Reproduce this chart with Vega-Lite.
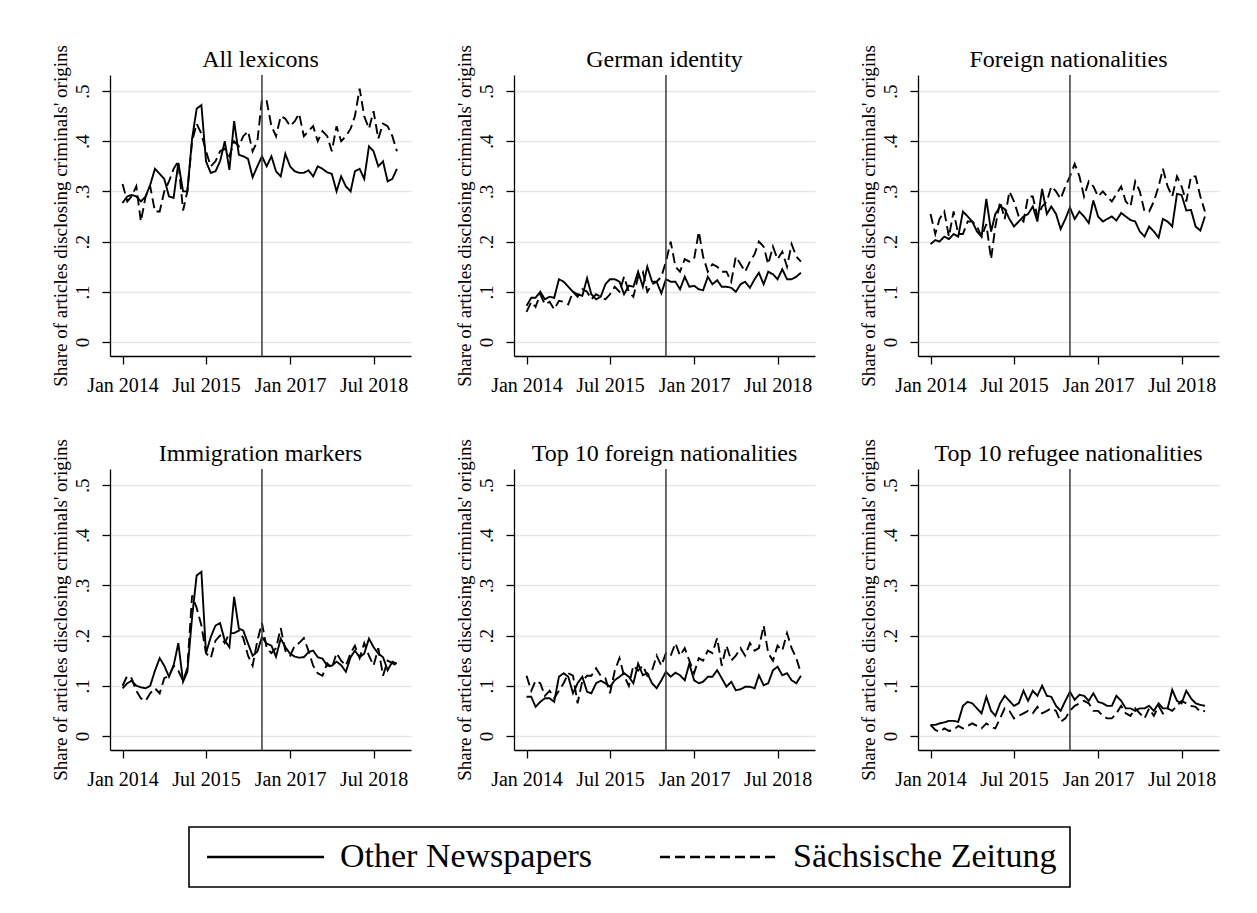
{
"$schema":"https://vega.github.io/schema/vega-lite/v6.json",
"padding":{"left":50,"top":42,"right":5,"bottom":5},
"data":{"values":[
{"p":"All lexicons","d":"2014-01","Other Newspapers":0.277,"Sächsische Zeitung":0.315},
{"p":"All lexicons","d":"2014-02","Other Newspapers":0.29,"Sächsische Zeitung":0.28},
{"p":"All lexicons","d":"2014-03","Other Newspapers":0.293,"Sächsische Zeitung":0.29},
{"p":"All lexicons","d":"2014-04","Other Newspapers":0.29,"Sächsische Zeitung":0.31},
{"p":"All lexicons","d":"2014-05","Other Newspapers":0.28,"Sächsische Zeitung":0.24},
{"p":"All lexicons","d":"2014-06","Other Newspapers":0.29,"Sächsische Zeitung":0.29},
{"p":"All lexicons","d":"2014-07","Other Newspapers":0.313,"Sächsische Zeitung":0.31},
{"p":"All lexicons","d":"2014-08","Other Newspapers":0.345,"Sächsische Zeitung":0.26},
{"p":"All lexicons","d":"2014-09","Other Newspapers":0.335,"Sächsische Zeitung":0.26},
{"p":"All lexicons","d":"2014-10","Other Newspapers":0.325,"Sächsische Zeitung":0.30},
{"p":"All lexicons","d":"2014-11","Other Newspapers":0.29,"Sächsische Zeitung":0.32},
{"p":"All lexicons","d":"2014-12","Other Newspapers":0.287,"Sächsische Zeitung":0.345},
{"p":"All lexicons","d":"2015-01","Other Newspapers":0.357,"Sächsische Zeitung":0.36},
{"p":"All lexicons","d":"2015-02","Other Newspapers":0.30,"Sächsische Zeitung":0.262},
{"p":"All lexicons","d":"2015-03","Other Newspapers":0.30,"Sächsische Zeitung":0.30},
{"p":"All lexicons","d":"2015-04","Other Newspapers":0.405,"Sächsische Zeitung":0.40},
{"p":"All lexicons","d":"2015-05","Other Newspapers":0.465,"Sächsische Zeitung":0.435},
{"p":"All lexicons","d":"2015-06","Other Newspapers":0.472,"Sächsische Zeitung":0.415},
{"p":"All lexicons","d":"2015-07","Other Newspapers":0.36,"Sächsische Zeitung":0.38},
{"p":"All lexicons","d":"2015-08","Other Newspapers":0.337,"Sächsische Zeitung":0.35},
{"p":"All lexicons","d":"2015-09","Other Newspapers":0.34,"Sächsische Zeitung":0.36},
{"p":"All lexicons","d":"2015-10","Other Newspapers":0.36,"Sächsische Zeitung":0.38},
{"p":"All lexicons","d":"2015-11","Other Newspapers":0.40,"Sächsische Zeitung":0.385},
{"p":"All lexicons","d":"2015-12","Other Newspapers":0.343,"Sächsische Zeitung":0.37},
{"p":"All lexicons","d":"2016-01","Other Newspapers":0.44,"Sächsische Zeitung":0.40},
{"p":"All lexicons","d":"2016-02","Other Newspapers":0.373,"Sächsische Zeitung":0.39},
{"p":"All lexicons","d":"2016-03","Other Newspapers":0.37,"Sächsische Zeitung":0.41},
{"p":"All lexicons","d":"2016-04","Other Newspapers":0.365,"Sächsische Zeitung":0.42},
{"p":"All lexicons","d":"2016-05","Other Newspapers":0.328,"Sächsische Zeitung":0.38},
{"p":"All lexicons","d":"2016-06","Other Newspapers":0.35,"Sächsische Zeitung":0.40},
{"p":"All lexicons","d":"2016-07","Other Newspapers":0.37,"Sächsische Zeitung":0.483},
{"p":"All lexicons","d":"2016-08","Other Newspapers":0.35,"Sächsische Zeitung":0.48},
{"p":"All lexicons","d":"2016-09","Other Newspapers":0.37,"Sächsische Zeitung":0.43},
{"p":"All lexicons","d":"2016-10","Other Newspapers":0.34,"Sächsische Zeitung":0.41},
{"p":"All lexicons","d":"2016-11","Other Newspapers":0.33,"Sächsische Zeitung":0.45},
{"p":"All lexicons","d":"2016-12","Other Newspapers":0.375,"Sächsische Zeitung":0.445},
{"p":"All lexicons","d":"2017-01","Other Newspapers":0.35,"Sächsische Zeitung":0.43},
{"p":"All lexicons","d":"2017-02","Other Newspapers":0.34,"Sächsische Zeitung":0.44},
{"p":"All lexicons","d":"2017-03","Other Newspapers":0.337,"Sächsische Zeitung":0.455},
{"p":"All lexicons","d":"2017-04","Other Newspapers":0.337,"Sächsische Zeitung":0.41},
{"p":"All lexicons","d":"2017-05","Other Newspapers":0.342,"Sächsische Zeitung":0.42},
{"p":"All lexicons","d":"2017-06","Other Newspapers":0.33,"Sächsische Zeitung":0.43},
{"p":"All lexicons","d":"2017-07","Other Newspapers":0.35,"Sächsische Zeitung":0.40},
{"p":"All lexicons","d":"2017-08","Other Newspapers":0.345,"Sächsische Zeitung":0.42},
{"p":"All lexicons","d":"2017-09","Other Newspapers":0.338,"Sächsische Zeitung":0.41},
{"p":"All lexicons","d":"2017-10","Other Newspapers":0.335,"Sächsische Zeitung":0.38},
{"p":"All lexicons","d":"2017-11","Other Newspapers":0.30,"Sächsische Zeitung":0.43},
{"p":"All lexicons","d":"2017-12","Other Newspapers":0.33,"Sächsische Zeitung":0.40},
{"p":"All lexicons","d":"2018-01","Other Newspapers":0.31,"Sächsische Zeitung":0.41},
{"p":"All lexicons","d":"2018-02","Other Newspapers":0.30,"Sächsische Zeitung":0.425},
{"p":"All lexicons","d":"2018-03","Other Newspapers":0.34,"Sächsische Zeitung":0.45},
{"p":"All lexicons","d":"2018-04","Other Newspapers":0.345,"Sächsische Zeitung":0.505},
{"p":"All lexicons","d":"2018-05","Other Newspapers":0.325,"Sächsische Zeitung":0.45},
{"p":"All lexicons","d":"2018-06","Other Newspapers":0.39,"Sächsische Zeitung":0.425},
{"p":"All lexicons","d":"2018-07","Other Newspapers":0.38,"Sächsische Zeitung":0.46},
{"p":"All lexicons","d":"2018-08","Other Newspapers":0.35,"Sächsische Zeitung":0.405},
{"p":"All lexicons","d":"2018-09","Other Newspapers":0.36,"Sächsische Zeitung":0.435},
{"p":"All lexicons","d":"2018-10","Other Newspapers":0.32,"Sächsische Zeitung":0.43},
{"p":"All lexicons","d":"2018-11","Other Newspapers":0.325,"Sächsische Zeitung":0.41},
{"p":"All lexicons","d":"2018-12","Other Newspapers":0.345,"Sächsische Zeitung":0.38},
{"p":"German identity","d":"2014-01","Other Newspapers":0.072,"Sächsische Zeitung":0.06},
{"p":"German identity","d":"2014-02","Other Newspapers":0.088,"Sächsische Zeitung":0.08},
{"p":"German identity","d":"2014-03","Other Newspapers":0.088,"Sächsische Zeitung":0.07},
{"p":"German identity","d":"2014-04","Other Newspapers":0.10,"Sächsische Zeitung":0.095},
{"p":"German identity","d":"2014-05","Other Newspapers":0.085,"Sächsische Zeitung":0.075},
{"p":"German identity","d":"2014-06","Other Newspapers":0.09,"Sächsische Zeitung":0.08},
{"p":"German identity","d":"2014-07","Other Newspapers":0.088,"Sächsische Zeitung":0.065},
{"p":"German identity","d":"2014-08","Other Newspapers":0.125,"Sächsische Zeitung":0.082},
{"p":"German identity","d":"2014-09","Other Newspapers":0.12,"Sächsische Zeitung":0.08},
{"p":"German identity","d":"2014-10","Other Newspapers":0.11,"Sächsische Zeitung":0.075},
{"p":"German identity","d":"2014-11","Other Newspapers":0.10,"Sächsische Zeitung":0.10},
{"p":"German identity","d":"2014-12","Other Newspapers":0.095,"Sächsische Zeitung":0.09},
{"p":"German identity","d":"2015-01","Other Newspapers":0.092,"Sächsische Zeitung":0.105},
{"p":"German identity","d":"2015-02","Other Newspapers":0.127,"Sächsische Zeitung":0.10},
{"p":"German identity","d":"2015-03","Other Newspapers":0.095,"Sächsische Zeitung":0.085},
{"p":"German identity","d":"2015-04","Other Newspapers":0.085,"Sächsische Zeitung":0.095},
{"p":"German identity","d":"2015-05","Other Newspapers":0.09,"Sächsische Zeitung":0.09},
{"p":"German identity","d":"2015-06","Other Newspapers":0.115,"Sächsische Zeitung":0.085},
{"p":"German identity","d":"2015-07","Other Newspapers":0.125,"Sächsische Zeitung":0.095},
{"p":"German identity","d":"2015-08","Other Newspapers":0.125,"Sächsische Zeitung":0.11},
{"p":"German identity","d":"2015-09","Other Newspapers":0.12,"Sächsische Zeitung":0.10},
{"p":"German identity","d":"2015-10","Other Newspapers":0.095,"Sächsische Zeitung":0.13},
{"p":"German identity","d":"2015-11","Other Newspapers":0.112,"Sächsische Zeitung":0.10},
{"p":"German identity","d":"2015-12","Other Newspapers":0.11,"Sächsische Zeitung":0.09},
{"p":"German identity","d":"2016-01","Other Newspapers":0.14,"Sächsische Zeitung":0.13},
{"p":"German identity","d":"2016-02","Other Newspapers":0.11,"Sächsische Zeitung":0.14},
{"p":"German identity","d":"2016-03","Other Newspapers":0.15,"Sächsische Zeitung":0.10},
{"p":"German identity","d":"2016-04","Other Newspapers":0.12,"Sächsische Zeitung":0.115},
{"p":"German identity","d":"2016-05","Other Newspapers":0.12,"Sächsische Zeitung":0.12},
{"p":"German identity","d":"2016-06","Other Newspapers":0.097,"Sächsische Zeitung":0.13},
{"p":"German identity","d":"2016-07","Other Newspapers":0.125,"Sächsische Zeitung":0.16},
{"p":"German identity","d":"2016-08","Other Newspapers":0.12,"Sächsische Zeitung":0.20},
{"p":"German identity","d":"2016-09","Other Newspapers":0.12,"Sächsische Zeitung":0.15},
{"p":"German identity","d":"2016-10","Other Newspapers":0.105,"Sächsische Zeitung":0.14},
{"p":"German identity","d":"2016-11","Other Newspapers":0.13,"Sächsische Zeitung":0.165},
{"p":"German identity","d":"2016-12","Other Newspapers":0.11,"Sächsische Zeitung":0.16},
{"p":"German identity","d":"2017-01","Other Newspapers":0.112,"Sächsische Zeitung":0.165},
{"p":"German identity","d":"2017-02","Other Newspapers":0.105,"Sächsische Zeitung":0.22},
{"p":"German identity","d":"2017-03","Other Newspapers":0.103,"Sächsische Zeitung":0.17},
{"p":"German identity","d":"2017-04","Other Newspapers":0.13,"Sächsische Zeitung":0.14},
{"p":"German identity","d":"2017-05","Other Newspapers":0.115,"Sächsische Zeitung":0.155},
{"p":"German identity","d":"2017-06","Other Newspapers":0.123,"Sächsische Zeitung":0.15},
{"p":"German identity","d":"2017-07","Other Newspapers":0.11,"Sächsische Zeitung":0.14},
{"p":"German identity","d":"2017-08","Other Newspapers":0.11,"Sächsische Zeitung":0.14},
{"p":"German identity","d":"2017-09","Other Newspapers":0.108,"Sächsische Zeitung":0.12},
{"p":"German identity","d":"2017-10","Other Newspapers":0.10,"Sächsische Zeitung":0.17},
{"p":"German identity","d":"2017-11","Other Newspapers":0.115,"Sächsische Zeitung":0.155},
{"p":"German identity","d":"2017-12","Other Newspapers":0.12,"Sächsische Zeitung":0.14},
{"p":"German identity","d":"2018-01","Other Newspapers":0.108,"Sächsische Zeitung":0.16},
{"p":"German identity","d":"2018-02","Other Newspapers":0.125,"Sächsische Zeitung":0.175},
{"p":"German identity","d":"2018-03","Other Newspapers":0.138,"Sächsische Zeitung":0.20},
{"p":"German identity","d":"2018-04","Other Newspapers":0.115,"Sächsische Zeitung":0.19},
{"p":"German identity","d":"2018-05","Other Newspapers":0.14,"Sächsische Zeitung":0.155},
{"p":"German identity","d":"2018-06","Other Newspapers":0.135,"Sächsische Zeitung":0.19},
{"p":"German identity","d":"2018-07","Other Newspapers":0.125,"Sächsische Zeitung":0.165},
{"p":"German identity","d":"2018-08","Other Newspapers":0.145,"Sächsische Zeitung":0.18},
{"p":"German identity","d":"2018-09","Other Newspapers":0.125,"Sächsische Zeitung":0.15},
{"p":"German identity","d":"2018-10","Other Newspapers":0.125,"Sächsische Zeitung":0.195},
{"p":"German identity","d":"2018-11","Other Newspapers":0.13,"Sächsische Zeitung":0.17},
{"p":"German identity","d":"2018-12","Other Newspapers":0.138,"Sächsische Zeitung":0.16},
{"p":"Foreign nationalities","d":"2014-01","Other Newspapers":0.195,"Sächsische Zeitung":0.255},
{"p":"Foreign nationalities","d":"2014-02","Other Newspapers":0.203,"Sächsische Zeitung":0.215},
{"p":"Foreign nationalities","d":"2014-03","Other Newspapers":0.20,"Sächsische Zeitung":0.245},
{"p":"Foreign nationalities","d":"2014-04","Other Newspapers":0.21,"Sächsische Zeitung":0.26},
{"p":"Foreign nationalities","d":"2014-05","Other Newspapers":0.205,"Sächsische Zeitung":0.21},
{"p":"Foreign nationalities","d":"2014-06","Other Newspapers":0.215,"Sächsische Zeitung":0.26},
{"p":"Foreign nationalities","d":"2014-07","Other Newspapers":0.21,"Sächsische Zeitung":0.215},
{"p":"Foreign nationalities","d":"2014-08","Other Newspapers":0.26,"Sächsische Zeitung":0.215},
{"p":"Foreign nationalities","d":"2014-09","Other Newspapers":0.25,"Sächsische Zeitung":0.24},
{"p":"Foreign nationalities","d":"2014-10","Other Newspapers":0.24,"Sächsische Zeitung":0.24},
{"p":"Foreign nationalities","d":"2014-11","Other Newspapers":0.22,"Sächsische Zeitung":0.23},
{"p":"Foreign nationalities","d":"2014-12","Other Newspapers":0.21,"Sächsische Zeitung":0.21},
{"p":"Foreign nationalities","d":"2015-01","Other Newspapers":0.285,"Sächsische Zeitung":0.235},
{"p":"Foreign nationalities","d":"2015-02","Other Newspapers":0.22,"Sächsische Zeitung":0.165},
{"p":"Foreign nationalities","d":"2015-03","Other Newspapers":0.255,"Sächsische Zeitung":0.23},
{"p":"Foreign nationalities","d":"2015-04","Other Newspapers":0.27,"Sächsische Zeitung":0.28},
{"p":"Foreign nationalities","d":"2015-05","Other Newspapers":0.265,"Sächsische Zeitung":0.245},
{"p":"Foreign nationalities","d":"2015-06","Other Newspapers":0.245,"Sächsische Zeitung":0.30},
{"p":"Foreign nationalities","d":"2015-07","Other Newspapers":0.23,"Sächsische Zeitung":0.28},
{"p":"Foreign nationalities","d":"2015-08","Other Newspapers":0.24,"Sächsische Zeitung":0.25},
{"p":"Foreign nationalities","d":"2015-09","Other Newspapers":0.25,"Sächsische Zeitung":0.24},
{"p":"Foreign nationalities","d":"2015-10","Other Newspapers":0.255,"Sächsische Zeitung":0.29},
{"p":"Foreign nationalities","d":"2015-11","Other Newspapers":0.27,"Sächsische Zeitung":0.29},
{"p":"Foreign nationalities","d":"2015-12","Other Newspapers":0.24,"Sächsische Zeitung":0.25},
{"p":"Foreign nationalities","d":"2016-01","Other Newspapers":0.305,"Sächsische Zeitung":0.27},
{"p":"Foreign nationalities","d":"2016-02","Other Newspapers":0.255,"Sächsische Zeitung":0.28},
{"p":"Foreign nationalities","d":"2016-03","Other Newspapers":0.27,"Sächsische Zeitung":0.31},
{"p":"Foreign nationalities","d":"2016-04","Other Newspapers":0.255,"Sächsische Zeitung":0.30},
{"p":"Foreign nationalities","d":"2016-05","Other Newspapers":0.225,"Sächsische Zeitung":0.285},
{"p":"Foreign nationalities","d":"2016-06","Other Newspapers":0.245,"Sächsische Zeitung":0.31},
{"p":"Foreign nationalities","d":"2016-07","Other Newspapers":0.268,"Sächsische Zeitung":0.33},
{"p":"Foreign nationalities","d":"2016-08","Other Newspapers":0.245,"Sächsische Zeitung":0.355},
{"p":"Foreign nationalities","d":"2016-09","Other Newspapers":0.26,"Sächsische Zeitung":0.33},
{"p":"Foreign nationalities","d":"2016-10","Other Newspapers":0.25,"Sächsische Zeitung":0.29},
{"p":"Foreign nationalities","d":"2016-11","Other Newspapers":0.237,"Sächsische Zeitung":0.32},
{"p":"Foreign nationalities","d":"2016-12","Other Newspapers":0.282,"Sächsische Zeitung":0.31},
{"p":"Foreign nationalities","d":"2017-01","Other Newspapers":0.25,"Sächsische Zeitung":0.29},
{"p":"Foreign nationalities","d":"2017-02","Other Newspapers":0.24,"Sächsische Zeitung":0.30},
{"p":"Foreign nationalities","d":"2017-03","Other Newspapers":0.245,"Sächsische Zeitung":0.29},
{"p":"Foreign nationalities","d":"2017-04","Other Newspapers":0.25,"Sächsische Zeitung":0.28},
{"p":"Foreign nationalities","d":"2017-05","Other Newspapers":0.242,"Sächsische Zeitung":0.295},
{"p":"Foreign nationalities","d":"2017-06","Other Newspapers":0.257,"Sächsische Zeitung":0.31},
{"p":"Foreign nationalities","d":"2017-07","Other Newspapers":0.25,"Sächsische Zeitung":0.28},
{"p":"Foreign nationalities","d":"2017-08","Other Newspapers":0.243,"Sächsische Zeitung":0.27},
{"p":"Foreign nationalities","d":"2017-09","Other Newspapers":0.24,"Sächsische Zeitung":0.32},
{"p":"Foreign nationalities","d":"2017-10","Other Newspapers":0.22,"Sächsische Zeitung":0.30},
{"p":"Foreign nationalities","d":"2017-11","Other Newspapers":0.21,"Sächsische Zeitung":0.26},
{"p":"Foreign nationalities","d":"2017-12","Other Newspapers":0.23,"Sächsische Zeitung":0.26},
{"p":"Foreign nationalities","d":"2018-01","Other Newspapers":0.22,"Sächsische Zeitung":0.28},
{"p":"Foreign nationalities","d":"2018-02","Other Newspapers":0.208,"Sächsische Zeitung":0.31},
{"p":"Foreign nationalities","d":"2018-03","Other Newspapers":0.245,"Sächsische Zeitung":0.345},
{"p":"Foreign nationalities","d":"2018-04","Other Newspapers":0.24,"Sächsische Zeitung":0.31},
{"p":"Foreign nationalities","d":"2018-05","Other Newspapers":0.23,"Sächsische Zeitung":0.29},
{"p":"Foreign nationalities","d":"2018-06","Other Newspapers":0.295,"Sächsische Zeitung":0.33},
{"p":"Foreign nationalities","d":"2018-07","Other Newspapers":0.293,"Sächsische Zeitung":0.31},
{"p":"Foreign nationalities","d":"2018-08","Other Newspapers":0.262,"Sächsische Zeitung":0.28},
{"p":"Foreign nationalities","d":"2018-09","Other Newspapers":0.263,"Sächsische Zeitung":0.33},
{"p":"Foreign nationalities","d":"2018-10","Other Newspapers":0.23,"Sächsische Zeitung":0.33},
{"p":"Foreign nationalities","d":"2018-11","Other Newspapers":0.222,"Sächsische Zeitung":0.29},
{"p":"Foreign nationalities","d":"2018-12","Other Newspapers":0.25,"Sächsische Zeitung":0.26},
{"p":"Immigration markers","d":"2014-01","Other Newspapers":0.095,"Sächsische Zeitung":0.10},
{"p":"Immigration markers","d":"2014-02","Other Newspapers":0.105,"Sächsische Zeitung":0.12},
{"p":"Immigration markers","d":"2014-03","Other Newspapers":0.11,"Sächsische Zeitung":0.115},
{"p":"Immigration markers","d":"2014-04","Other Newspapers":0.10,"Sächsische Zeitung":0.09},
{"p":"Immigration markers","d":"2014-05","Other Newspapers":0.097,"Sächsische Zeitung":0.075},
{"p":"Immigration markers","d":"2014-06","Other Newspapers":0.095,"Sächsische Zeitung":0.07},
{"p":"Immigration markers","d":"2014-07","Other Newspapers":0.10,"Sächsische Zeitung":0.085},
{"p":"Immigration markers","d":"2014-08","Other Newspapers":0.13,"Sächsische Zeitung":0.095},
{"p":"Immigration markers","d":"2014-09","Other Newspapers":0.155,"Sächsische Zeitung":0.085},
{"p":"Immigration markers","d":"2014-10","Other Newspapers":0.14,"Sächsische Zeitung":0.115},
{"p":"Immigration markers","d":"2014-11","Other Newspapers":0.118,"Sächsische Zeitung":0.12},
{"p":"Immigration markers","d":"2014-12","Other Newspapers":0.14,"Sächsische Zeitung":0.14},
{"p":"Immigration markers","d":"2015-01","Other Newspapers":0.185,"Sächsische Zeitung":0.13},
{"p":"Immigration markers","d":"2015-02","Other Newspapers":0.108,"Sächsische Zeitung":0.11},
{"p":"Immigration markers","d":"2015-03","Other Newspapers":0.128,"Sächsische Zeitung":0.135},
{"p":"Immigration markers","d":"2015-04","Other Newspapers":0.237,"Sächsische Zeitung":0.28},
{"p":"Immigration markers","d":"2015-05","Other Newspapers":0.32,"Sächsische Zeitung":0.255},
{"p":"Immigration markers","d":"2015-06","Other Newspapers":0.327,"Sächsische Zeitung":0.22},
{"p":"Immigration markers","d":"2015-07","Other Newspapers":0.165,"Sächsische Zeitung":0.165},
{"p":"Immigration markers","d":"2015-08","Other Newspapers":0.197,"Sächsische Zeitung":0.155},
{"p":"Immigration markers","d":"2015-09","Other Newspapers":0.22,"Sächsische Zeitung":0.19},
{"p":"Immigration markers","d":"2015-10","Other Newspapers":0.225,"Sächsische Zeitung":0.20},
{"p":"Immigration markers","d":"2015-11","Other Newspapers":0.19,"Sächsische Zeitung":0.185},
{"p":"Immigration markers","d":"2015-12","Other Newspapers":0.177,"Sächsische Zeitung":0.205},
{"p":"Immigration markers","d":"2016-01","Other Newspapers":0.277,"Sächsische Zeitung":0.205},
{"p":"Immigration markers","d":"2016-02","Other Newspapers":0.214,"Sächsische Zeitung":0.21},
{"p":"Immigration markers","d":"2016-03","Other Newspapers":0.21,"Sächsische Zeitung":0.195},
{"p":"Immigration markers","d":"2016-04","Other Newspapers":0.184,"Sächsische Zeitung":0.16},
{"p":"Immigration markers","d":"2016-05","Other Newspapers":0.16,"Sächsische Zeitung":0.14},
{"p":"Immigration markers","d":"2016-06","Other Newspapers":0.168,"Sächsische Zeitung":0.19},
{"p":"Immigration markers","d":"2016-07","Other Newspapers":0.197,"Sächsische Zeitung":0.225},
{"p":"Immigration markers","d":"2016-08","Other Newspapers":0.184,"Sächsische Zeitung":0.175},
{"p":"Immigration markers","d":"2016-09","Other Newspapers":0.18,"Sächsische Zeitung":0.165},
{"p":"Immigration markers","d":"2016-10","Other Newspapers":0.158,"Sächsische Zeitung":0.175},
{"p":"Immigration markers","d":"2016-11","Other Newspapers":0.194,"Sächsische Zeitung":0.215},
{"p":"Immigration markers","d":"2016-12","Other Newspapers":0.177,"Sächsische Zeitung":0.17},
{"p":"Immigration markers","d":"2017-01","Other Newspapers":0.164,"Sächsische Zeitung":0.16},
{"p":"Immigration markers","d":"2017-02","Other Newspapers":0.158,"Sächsische Zeitung":0.18},
{"p":"Immigration markers","d":"2017-03","Other Newspapers":0.156,"Sächsische Zeitung":0.185},
{"p":"Immigration markers","d":"2017-04","Other Newspapers":0.157,"Sächsische Zeitung":0.195},
{"p":"Immigration markers","d":"2017-05","Other Newspapers":0.167,"Sächsische Zeitung":0.17},
{"p":"Immigration markers","d":"2017-06","Other Newspapers":0.17,"Sächsische Zeitung":0.14},
{"p":"Immigration markers","d":"2017-07","Other Newspapers":0.157,"Sächsische Zeitung":0.125},
{"p":"Immigration markers","d":"2017-08","Other Newspapers":0.154,"Sächsische Zeitung":0.12},
{"p":"Immigration markers","d":"2017-09","Other Newspapers":0.14,"Sächsische Zeitung":0.145},
{"p":"Immigration markers","d":"2017-10","Other Newspapers":0.14,"Sächsische Zeitung":0.135},
{"p":"Immigration markers","d":"2017-11","Other Newspapers":0.148,"Sächsische Zeitung":0.165},
{"p":"Immigration markers","d":"2017-12","Other Newspapers":0.141,"Sächsische Zeitung":0.15},
{"p":"Immigration markers","d":"2018-01","Other Newspapers":0.128,"Sächsische Zeitung":0.14},
{"p":"Immigration markers","d":"2018-02","Other Newspapers":0.157,"Sächsische Zeitung":0.165},
{"p":"Immigration markers","d":"2018-03","Other Newspapers":0.17,"Sächsische Zeitung":0.18},
{"p":"Immigration markers","d":"2018-04","Other Newspapers":0.157,"Sächsische Zeitung":0.155},
{"p":"Immigration markers","d":"2018-05","Other Newspapers":0.164,"Sächsische Zeitung":0.185},
{"p":"Immigration markers","d":"2018-06","Other Newspapers":0.194,"Sächsische Zeitung":0.16},
{"p":"Immigration markers","d":"2018-07","Other Newspapers":0.177,"Sächsische Zeitung":0.14},
{"p":"Immigration markers","d":"2018-08","Other Newspapers":0.164,"Sächsische Zeitung":0.175},
{"p":"Immigration markers","d":"2018-09","Other Newspapers":0.157,"Sächsische Zeitung":0.12},
{"p":"Immigration markers","d":"2018-10","Other Newspapers":0.131,"Sächsische Zeitung":0.15},
{"p":"Immigration markers","d":"2018-11","Other Newspapers":0.148,"Sächsische Zeitung":0.145},
{"p":"Immigration markers","d":"2018-12","Other Newspapers":0.144,"Sächsische Zeitung":0.14},
{"p":"Top 10 foreign nationalities","d":"2014-01","Other Newspapers":0.078,"Sächsische Zeitung":0.12},
{"p":"Top 10 foreign nationalities","d":"2014-02","Other Newspapers":0.078,"Sächsische Zeitung":0.09},
{"p":"Top 10 foreign nationalities","d":"2014-03","Other Newspapers":0.058,"Sächsische Zeitung":0.11},
{"p":"Top 10 foreign nationalities","d":"2014-04","Other Newspapers":0.068,"Sächsische Zeitung":0.105},
{"p":"Top 10 foreign nationalities","d":"2014-05","Other Newspapers":0.075,"Sächsische Zeitung":0.08},
{"p":"Top 10 foreign nationalities","d":"2014-06","Other Newspapers":0.075,"Sächsische Zeitung":0.09},
{"p":"Top 10 foreign nationalities","d":"2014-07","Other Newspapers":0.068,"Sächsische Zeitung":0.075},
{"p":"Top 10 foreign nationalities","d":"2014-08","Other Newspapers":0.118,"Sächsische Zeitung":0.09},
{"p":"Top 10 foreign nationalities","d":"2014-09","Other Newspapers":0.125,"Sächsische Zeitung":0.105},
{"p":"Top 10 foreign nationalities","d":"2014-10","Other Newspapers":0.118,"Sächsische Zeitung":0.125},
{"p":"Top 10 foreign nationalities","d":"2014-11","Other Newspapers":0.085,"Sächsische Zeitung":0.12},
{"p":"Top 10 foreign nationalities","d":"2014-12","Other Newspapers":0.105,"Sächsische Zeitung":0.065},
{"p":"Top 10 foreign nationalities","d":"2015-01","Other Newspapers":0.118,"Sächsische Zeitung":0.11},
{"p":"Top 10 foreign nationalities","d":"2015-02","Other Newspapers":0.088,"Sächsische Zeitung":0.12},
{"p":"Top 10 foreign nationalities","d":"2015-03","Other Newspapers":0.085,"Sächsische Zeitung":0.12},
{"p":"Top 10 foreign nationalities","d":"2015-04","Other Newspapers":0.105,"Sächsische Zeitung":0.135},
{"p":"Top 10 foreign nationalities","d":"2015-05","Other Newspapers":0.11,"Sächsische Zeitung":0.12},
{"p":"Top 10 foreign nationalities","d":"2015-06","Other Newspapers":0.105,"Sächsische Zeitung":0.115},
{"p":"Top 10 foreign nationalities","d":"2015-07","Other Newspapers":0.098,"Sächsische Zeitung":0.085},
{"p":"Top 10 foreign nationalities","d":"2015-08","Other Newspapers":0.111,"Sächsische Zeitung":0.13},
{"p":"Top 10 foreign nationalities","d":"2015-09","Other Newspapers":0.118,"Sächsische Zeitung":0.155},
{"p":"Top 10 foreign nationalities","d":"2015-10","Other Newspapers":0.125,"Sächsische Zeitung":0.12},
{"p":"Top 10 foreign nationalities","d":"2015-11","Other Newspapers":0.118,"Sächsische Zeitung":0.10},
{"p":"Top 10 foreign nationalities","d":"2015-12","Other Newspapers":0.105,"Sächsische Zeitung":0.14},
{"p":"Top 10 foreign nationalities","d":"2016-01","Other Newspapers":0.144,"Sächsische Zeitung":0.13},
{"p":"Top 10 foreign nationalities","d":"2016-02","Other Newspapers":0.121,"Sächsische Zeitung":0.14},
{"p":"Top 10 foreign nationalities","d":"2016-03","Other Newspapers":0.125,"Sächsische Zeitung":0.12},
{"p":"Top 10 foreign nationalities","d":"2016-04","Other Newspapers":0.105,"Sächsische Zeitung":0.13},
{"p":"Top 10 foreign nationalities","d":"2016-05","Other Newspapers":0.095,"Sächsische Zeitung":0.16},
{"p":"Top 10 foreign nationalities","d":"2016-06","Other Newspapers":0.111,"Sächsische Zeitung":0.14},
{"p":"Top 10 foreign nationalities","d":"2016-07","Other Newspapers":0.128,"Sächsische Zeitung":0.165},
{"p":"Top 10 foreign nationalities","d":"2016-08","Other Newspapers":0.118,"Sächsische Zeitung":0.16},
{"p":"Top 10 foreign nationalities","d":"2016-09","Other Newspapers":0.126,"Sächsische Zeitung":0.185},
{"p":"Top 10 foreign nationalities","d":"2016-10","Other Newspapers":0.121,"Sächsische Zeitung":0.16},
{"p":"Top 10 foreign nationalities","d":"2016-11","Other Newspapers":0.111,"Sächsische Zeitung":0.175},
{"p":"Top 10 foreign nationalities","d":"2016-12","Other Newspapers":0.144,"Sächsische Zeitung":0.15},
{"p":"Top 10 foreign nationalities","d":"2017-01","Other Newspapers":0.111,"Sächsische Zeitung":0.125},
{"p":"Top 10 foreign nationalities","d":"2017-02","Other Newspapers":0.105,"Sächsische Zeitung":0.155},
{"p":"Top 10 foreign nationalities","d":"2017-03","Other Newspapers":0.108,"Sächsische Zeitung":0.15},
{"p":"Top 10 foreign nationalities","d":"2017-04","Other Newspapers":0.118,"Sächsische Zeitung":0.17},
{"p":"Top 10 foreign nationalities","d":"2017-05","Other Newspapers":0.118,"Sächsische Zeitung":0.165},
{"p":"Top 10 foreign nationalities","d":"2017-06","Other Newspapers":0.131,"Sächsische Zeitung":0.195},
{"p":"Top 10 foreign nationalities","d":"2017-07","Other Newspapers":0.115,"Sächsische Zeitung":0.14},
{"p":"Top 10 foreign nationalities","d":"2017-08","Other Newspapers":0.098,"Sächsische Zeitung":0.18},
{"p":"Top 10 foreign nationalities","d":"2017-09","Other Newspapers":0.108,"Sächsische Zeitung":0.15},
{"p":"Top 10 foreign nationalities","d":"2017-10","Other Newspapers":0.091,"Sächsische Zeitung":0.16},
{"p":"Top 10 foreign nationalities","d":"2017-11","Other Newspapers":0.093,"Sächsische Zeitung":0.175},
{"p":"Top 10 foreign nationalities","d":"2017-12","Other Newspapers":0.098,"Sächsische Zeitung":0.16},
{"p":"Top 10 foreign nationalities","d":"2018-01","Other Newspapers":0.098,"Sächsische Zeitung":0.185},
{"p":"Top 10 foreign nationalities","d":"2018-02","Other Newspapers":0.095,"Sächsische Zeitung":0.17},
{"p":"Top 10 foreign nationalities","d":"2018-03","Other Newspapers":0.121,"Sächsische Zeitung":0.175},
{"p":"Top 10 foreign nationalities","d":"2018-04","Other Newspapers":0.101,"Sächsische Zeitung":0.22},
{"p":"Top 10 foreign nationalities","d":"2018-05","Other Newspapers":0.105,"Sächsische Zeitung":0.165},
{"p":"Top 10 foreign nationalities","d":"2018-06","Other Newspapers":0.131,"Sächsische Zeitung":0.15},
{"p":"Top 10 foreign nationalities","d":"2018-07","Other Newspapers":0.138,"Sächsische Zeitung":0.18},
{"p":"Top 10 foreign nationalities","d":"2018-08","Other Newspapers":0.121,"Sächsische Zeitung":0.17},
{"p":"Top 10 foreign nationalities","d":"2018-09","Other Newspapers":0.125,"Sächsische Zeitung":0.205},
{"p":"Top 10 foreign nationalities","d":"2018-10","Other Newspapers":0.111,"Sächsische Zeitung":0.175},
{"p":"Top 10 foreign nationalities","d":"2018-11","Other Newspapers":0.105,"Sächsische Zeitung":0.155},
{"p":"Top 10 foreign nationalities","d":"2018-12","Other Newspapers":0.12,"Sächsische Zeitung":0.125},
{"p":"Top 10 refugee nationalities","d":"2014-01","Other Newspapers":0.022,"Sächsische Zeitung":0.022},
{"p":"Top 10 refugee nationalities","d":"2014-02","Other Newspapers":0.022,"Sächsische Zeitung":0.012},
{"p":"Top 10 refugee nationalities","d":"2014-03","Other Newspapers":0.025,"Sächsische Zeitung":0.008},
{"p":"Top 10 refugee nationalities","d":"2014-04","Other Newspapers":0.027,"Sächsische Zeitung":0.015},
{"p":"Top 10 refugee nationalities","d":"2014-05","Other Newspapers":0.03,"Sächsische Zeitung":0.01},
{"p":"Top 10 refugee nationalities","d":"2014-06","Other Newspapers":0.03,"Sächsische Zeitung":0.012},
{"p":"Top 10 refugee nationalities","d":"2014-07","Other Newspapers":0.028,"Sächsische Zeitung":0.02},
{"p":"Top 10 refugee nationalities","d":"2014-08","Other Newspapers":0.06,"Sächsische Zeitung":0.015},
{"p":"Top 10 refugee nationalities","d":"2014-09","Other Newspapers":0.068,"Sächsische Zeitung":0.02},
{"p":"Top 10 refugee nationalities","d":"2014-10","Other Newspapers":0.065,"Sächsische Zeitung":0.025},
{"p":"Top 10 refugee nationalities","d":"2014-11","Other Newspapers":0.055,"Sächsische Zeitung":0.02},
{"p":"Top 10 refugee nationalities","d":"2014-12","Other Newspapers":0.045,"Sächsische Zeitung":0.015},
{"p":"Top 10 refugee nationalities","d":"2015-01","Other Newspapers":0.078,"Sächsische Zeitung":0.025},
{"p":"Top 10 refugee nationalities","d":"2015-02","Other Newspapers":0.05,"Sächsische Zeitung":0.018},
{"p":"Top 10 refugee nationalities","d":"2015-03","Other Newspapers":0.04,"Sächsische Zeitung":0.015},
{"p":"Top 10 refugee nationalities","d":"2015-04","Other Newspapers":0.065,"Sächsische Zeitung":0.035},
{"p":"Top 10 refugee nationalities","d":"2015-05","Other Newspapers":0.08,"Sächsische Zeitung":0.055},
{"p":"Top 10 refugee nationalities","d":"2015-06","Other Newspapers":0.07,"Sächsische Zeitung":0.05},
{"p":"Top 10 refugee nationalities","d":"2015-07","Other Newspapers":0.06,"Sächsische Zeitung":0.035},
{"p":"Top 10 refugee nationalities","d":"2015-08","Other Newspapers":0.065,"Sächsische Zeitung":0.04},
{"p":"Top 10 refugee nationalities","d":"2015-09","Other Newspapers":0.09,"Sächsische Zeitung":0.045},
{"p":"Top 10 refugee nationalities","d":"2015-10","Other Newspapers":0.07,"Sächsische Zeitung":0.05},
{"p":"Top 10 refugee nationalities","d":"2015-11","Other Newspapers":0.09,"Sächsische Zeitung":0.045},
{"p":"Top 10 refugee nationalities","d":"2015-12","Other Newspapers":0.08,"Sächsische Zeitung":0.058},
{"p":"Top 10 refugee nationalities","d":"2016-01","Other Newspapers":0.10,"Sächsische Zeitung":0.045},
{"p":"Top 10 refugee nationalities","d":"2016-02","Other Newspapers":0.08,"Sächsische Zeitung":0.05},
{"p":"Top 10 refugee nationalities","d":"2016-03","Other Newspapers":0.078,"Sächsische Zeitung":0.055},
{"p":"Top 10 refugee nationalities","d":"2016-04","Other Newspapers":0.06,"Sächsische Zeitung":0.05},
{"p":"Top 10 refugee nationalities","d":"2016-05","Other Newspapers":0.05,"Sächsische Zeitung":0.028},
{"p":"Top 10 refugee nationalities","d":"2016-06","Other Newspapers":0.07,"Sächsische Zeitung":0.035},
{"p":"Top 10 refugee nationalities","d":"2016-07","Other Newspapers":0.088,"Sächsische Zeitung":0.05},
{"p":"Top 10 refugee nationalities","d":"2016-08","Other Newspapers":0.072,"Sächsische Zeitung":0.06},
{"p":"Top 10 refugee nationalities","d":"2016-09","Other Newspapers":0.082,"Sächsische Zeitung":0.065},
{"p":"Top 10 refugee nationalities","d":"2016-10","Other Newspapers":0.08,"Sächsische Zeitung":0.07},
{"p":"Top 10 refugee nationalities","d":"2016-11","Other Newspapers":0.07,"Sächsische Zeitung":0.065},
{"p":"Top 10 refugee nationalities","d":"2016-12","Other Newspapers":0.085,"Sächsische Zeitung":0.05},
{"p":"Top 10 refugee nationalities","d":"2017-01","Other Newspapers":0.068,"Sächsische Zeitung":0.05},
{"p":"Top 10 refugee nationalities","d":"2017-02","Other Newspapers":0.065,"Sächsische Zeitung":0.04},
{"p":"Top 10 refugee nationalities","d":"2017-03","Other Newspapers":0.06,"Sächsische Zeitung":0.035},
{"p":"Top 10 refugee nationalities","d":"2017-04","Other Newspapers":0.06,"Sächsische Zeitung":0.035},
{"p":"Top 10 refugee nationalities","d":"2017-05","Other Newspapers":0.08,"Sächsische Zeitung":0.045},
{"p":"Top 10 refugee nationalities","d":"2017-06","Other Newspapers":0.07,"Sächsische Zeitung":0.06},
{"p":"Top 10 refugee nationalities","d":"2017-07","Other Newspapers":0.055,"Sächsische Zeitung":0.045},
{"p":"Top 10 refugee nationalities","d":"2017-08","Other Newspapers":0.055,"Sächsische Zeitung":0.04},
{"p":"Top 10 refugee nationalities","d":"2017-09","Other Newspapers":0.05,"Sächsische Zeitung":0.055},
{"p":"Top 10 refugee nationalities","d":"2017-10","Other Newspapers":0.055,"Sächsische Zeitung":0.045},
{"p":"Top 10 refugee nationalities","d":"2017-11","Other Newspapers":0.055,"Sächsische Zeitung":0.035},
{"p":"Top 10 refugee nationalities","d":"2017-12","Other Newspapers":0.06,"Sächsische Zeitung":0.055},
{"p":"Top 10 refugee nationalities","d":"2018-01","Other Newspapers":0.05,"Sächsische Zeitung":0.04},
{"p":"Top 10 refugee nationalities","d":"2018-02","Other Newspapers":0.065,"Sächsische Zeitung":0.06},
{"p":"Top 10 refugee nationalities","d":"2018-03","Other Newspapers":0.055,"Sächsische Zeitung":0.045},
{"p":"Top 10 refugee nationalities","d":"2018-04","Other Newspapers":0.055,"Sächsische Zeitung":0.055},
{"p":"Top 10 refugee nationalities","d":"2018-05","Other Newspapers":0.092,"Sächsische Zeitung":0.05},
{"p":"Top 10 refugee nationalities","d":"2018-06","Other Newspapers":0.07,"Sächsische Zeitung":0.06},
{"p":"Top 10 refugee nationalities","d":"2018-07","Other Newspapers":0.065,"Sächsische Zeitung":0.07},
{"p":"Top 10 refugee nationalities","d":"2018-08","Other Newspapers":0.09,"Sächsische Zeitung":0.065},
{"p":"Top 10 refugee nationalities","d":"2018-09","Other Newspapers":0.075,"Sächsische Zeitung":0.06},
{"p":"Top 10 refugee nationalities","d":"2018-10","Other Newspapers":0.065,"Sächsische Zeitung":0.058},
{"p":"Top 10 refugee nationalities","d":"2018-11","Other Newspapers":0.062,"Sächsische Zeitung":0.048},
{"p":"Top 10 refugee nationalities","d":"2018-12","Other Newspapers":0.06,"Sächsische Zeitung":0.05}
]},
"transform":[{"fold":["Other Newspapers","Sächsische Zeitung"],"as":["s","v"]}],
"facet":{"field":"p","type":"nominal","sort":["All lexicons","German identity","Foreign nationalities","Immigration markers","Top 10 foreign nationalities","Top 10 refugee nationalities"],"header":{"title":null,"labelFont":"Liberation Serif","labelFontSize":24,"labelColor":"black","labelPadding":-30}},
"columns":3,
"spacing":{"row":113,"column":103},
"bounds":"flush",
"resolve":{"axis":{"x":"independent","y":"independent"}},
"spec":{
 "width":301,"height":281,
 "layer":[
  {"mark":{"type":"line","color":"black","strokeWidth":1.9},
   "encoding":{
    "x":{"field":"d","type":"temporal","scale":{"type":"utc","domain":[{"year":2013,"month":10,"date":11,"utc":true},{"year":2019,"month":3,"date":3,"utc":true}]},
      "axis":{"title":null,"grid":false,"format":"%b %Y","values":[{"year":2014,"month":1,"date":1,"utc":true},{"year":2015,"month":7,"date":1,"utc":true},{"year":2017,"month":1,"date":1,"utc":true},{"year":2018,"month":7,"date":1,"utc":true}],"labelPadding":11,"labelFontSize":20}},
    "y":{"field":"v","type":"quantitative","scale":{"domain":[-0.028,0.532],"nice":false,"zero":false},
      "axis":{"title":"Share of  articles disclosing criminals' origins","values":[0,0.1,0.2,0.3,0.4,0.5],"labelAngle":270,"grid":true,"gridColor":"#e6e6e6","gridWidth":1.5,"titlePadding":3,"labelPadding":10,"labelExpr":"datum.value == 0 ? '0' : replace(format(datum.value, '.1f'), '0.', '.')"}},
    "strokeDash":{"field":"s","type":"nominal","scale":{"domain":["Other Newspapers","Sächsische Zeitung"],"range":[[1,0],[10,5]]},
      "legend":{"title":null,"orient":"none","legendX":79,"legendY":752,"direction":"horizontal","labelFont":"Liberation Serif","labelFontSize":34,"labelLimit":500,"labelOffset":104,"columnPadding":62,
        "encode":{"legend":{"update":{"strokeWidth":{"value":1.6}}},
                  "symbols":{"enter":{"strokeDash":{"signal":"datum.value === 'Sächsische Zeitung' ? [20, 9] : [1, 0]"}},"update":{"strokeDash":{"signal":"datum.value === 'Sächsische Zeitung' ? [20, 9] : [1, 0]"}}}}}}
   }},
  {"transform":[{"filter":"datum.s === 'Other Newspapers' && utcyear(datum.d) === 2014 && utcmonth(datum.d) === 0"}],
   "mark":{"type":"rule","color":"#3a3a3a","strokeWidth":1.5},
   "encoding":{"x":{"datum":{"year":2016,"month":7,"date":1,"utc":true},"type":"temporal"}}}
 ]
},
"config":{
 "font":"Liberation Serif",
 "view":{"stroke":null},
 "axis":{"labelFont":"Liberation Serif","titleFont":"Liberation Serif","labelColor":"black","titleColor":"black","labelFontSize":19,"titleFontSize":19,"titleFontWeight":"normal","domainColor":"black","domainWidth":1.3,"tickColor":"black","tickWidth":1.3,"tickSize":8},
 "legend":{"labelFont":"Liberation Serif","labelFontSize":34,"labelColor":"black","labelLimit":500,"symbolType":"M-1,0H8.75","symbolSize":576,"symbolStrokeWidth":2.5,"symbolStrokeColor":"black","strokeColor":"black","padding":13}
}
}
